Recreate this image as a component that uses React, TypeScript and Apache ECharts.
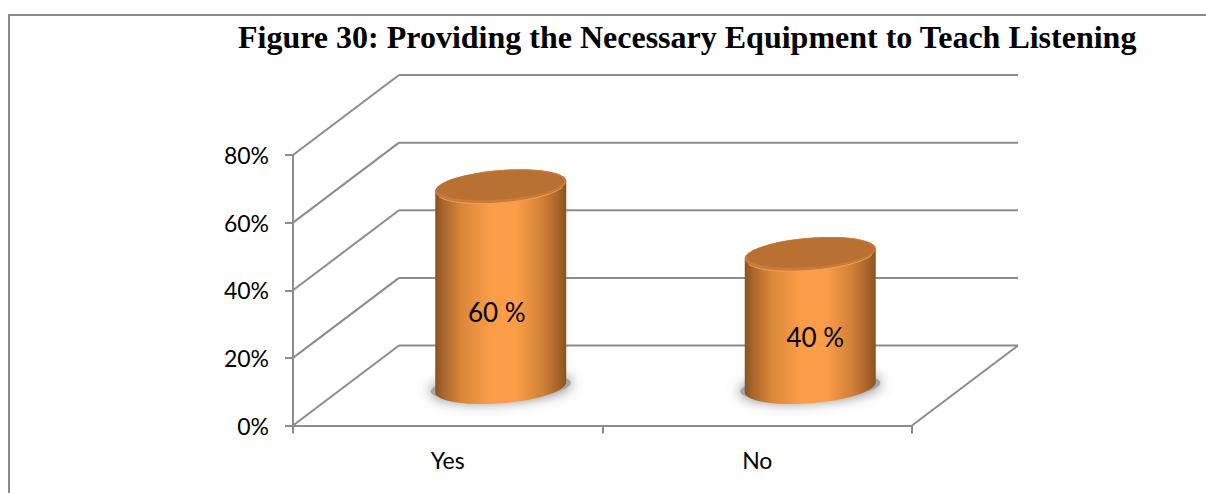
import React, { useEffect, useRef } from "react";
import * as echarts from "echarts";

const categories = ["Yes", "No"];
const values = [60, 40];
const valueLabels = ["60 %", "40 %"];
const yTicks = [0, 20, 40, 60, 80];
const titleText = "Figure 30: Providing the Necessary Equipment to Teach Listening";

const DEPTH_X = 106;
const DEPTH_Y = -80;
const BAR_RX = 65.5;
const ELL_B = 16.2;
const ELL_S = 5;
const BEVEL = 2;
const AXIS = "#8c8c8c";
const LINE_W = 2;

function ellipse(cx: number, cy: number, from: number, to: number, n = 48) {
  const pts: number[][] = [];
  for (let i = 0; i <= n; i++) {
    const t = from + ((to - from) * i) / n;
    pts.push([cx + BAR_RX * Math.cos(t), cy + ELL_B * Math.sin(t) - ELL_S * Math.cos(t)]);
  }
  return pts;
}

const renderWalls = (params: any, api: any) => {
  const v = api.value(0);
  const [x0, y0] = api.coord([0, v]);
  const size = api.size([1, 0]);
  const left = x0 - size[0] / 2;
  const right = left + size[0] * categories.length;
  const lineStyle = { stroke: AXIS, lineWidth: LINE_W, fill: null };
  const children: any[] = [
    { type: "line", shape: { x1: left, y1: y0, x2: left + DEPTH_X, y2: y0 + DEPTH_Y }, style: lineStyle },
    { type: "line", shape: { x1: left + DEPTH_X, y1: y0 + DEPTH_Y, x2: right + DEPTH_X, y2: y0 + DEPTH_Y }, style: lineStyle },
  ];
  if (v === 0) {
    children.push({ type: "line", shape: { x1: right, y1: y0, x2: right + DEPTH_X, y2: y0 + DEPTH_Y }, style: lineStyle });
  }
  return { type: "group", children };
};

const renderBar = (params: any, api: any) => {
  const i = api.value(0);
  const v = api.value(1);
  const [bx, by] = api.coord([i, 0]);
  const [, ty] = api.coord([i, v]);
  const cx = bx + DEPTH_X * 0.5;
  const bottom = by + DEPTH_Y * 0.48;
  const top = ty + DEPTH_Y * 0.48 + BEVEL;
  const gradient = new echarts.graphic.LinearGradient(0, 0, 1, 0, [
    { offset: 0, color: "#8a5122" },
    { offset: 0.06, color: "#a9652c" },
    { offset: 0.2, color: "#d98739" },
    { offset: 0.42, color: "#fb9c48" },
    { offset: 0.62, color: "#fc9d49" },
    { offset: 0.82, color: "#d08038" },
    { offset: 0.94, color: "#a66329" },
    { offset: 1, color: "#8c5222" },
  ]);
  const body = [...ellipse(cx, bottom, 0, Math.PI), ...ellipse(cx, top, Math.PI, 2 * Math.PI)];
  const shadow = ellipse(cx, bottom, 0, 2 * Math.PI).map(([x, y]) => [
    cx + (x - cx) * 1.07,
    bottom + (y - bottom) * 0.85,
  ]);
  const lid = ellipse(cx, top, 0, 2 * Math.PI);
  const lidInner = lid.map(([x, y]) => [cx + (x - cx) * 0.97, top + (y - top) * 0.88 - 1]);
  const rim = ellipse(cx, top + 0.5, 0.35, Math.PI - 0.35);
  const labelY = bottom - (bottom - top) * 0.375;
  const labelX = cx + (i === 0 ? -4 : 5);
  return {
    type: "group",
    children: [
      {
        type: "polygon",
        shape: { points: shadow },
        style: { fill: "#a5a5a5", shadowBlur: 14, shadowColor: "rgba(100,100,100,0.9)" },
      },
      { type: "polygon", shape: { points: body }, style: { fill: gradient } },
      { type: "polygon", shape: { points: lid }, style: { fill: "#c87c3a" } },
      { type: "polygon", shape: { points: lidInner }, style: { fill: "#b87033" } },
      { type: "polyline", shape: { points: rim }, style: { stroke: "#efa052", lineWidth: 1, fill: null } },
      {
        type: "text",
        style: {
          x: labelX,
          y: labelY,
          text: valueLabels[i],
          fill: "#000",
          font: "26px Lato",
          align: "center",
          verticalAlign: "middle",
        },
      },
    ],
  };
};

export default function App() {
  const ref = useRef<HTMLDivElement>(null);
  useEffect(() => {
    const chart = echarts.init(ref.current!, null, { renderer: "svg" });
    chart.setOption({
      animation: false,
      backgroundColor: "#fff",
      title: {
        text: titleText,
        left: 238,
        top: 21,
        padding: 0,
        textStyle: { fontFamily: "Liberation Serif", fontWeight: "bold", fontSize: 32, color: "#000" },
      },
      graphic: [
        {
          type: "polyline",
          shape: { points: [[9, 493], [9, 15], [1206, 15]] },
          style: { stroke: "#8a8a8a", lineWidth: 2, fill: null },
        },
      ],
      grid: { left: 293, top: 155, width: 619, height: 270.5 },
      xAxis: {
        type: "category",
        data: categories,
        boundaryGap: true,
        axisLine: { lineStyle: { color: AXIS, width: LINE_W } },
        axisTick: { show: true, alignWithLabel: false, length: 8, lineStyle: { color: AXIS, width: LINE_W } },
        axisLabel: { color: "#000", fontFamily: "Lato", fontSize: 23, margin: 23 },
      },
      yAxis: {
        type: "value",
        min: 0,
        max: 80,
        interval: 20,
        axisLine: { show: true, lineStyle: { color: AXIS, width: LINE_W } },
        axisTick: { show: true, length: 8, lineStyle: { color: AXIS, width: LINE_W } },
        axisLabel: { color: "#000", fontFamily: "Lato", fontSize: 23, margin: 24, formatter: "{value}%" },
        splitLine: { show: false },
      },
      series: [
        {
          type: "custom",
          silent: true,
          clip: false,
          renderItem: renderWalls,
          data: yTicks.map((v) => [v]),
          encode: { y: 0 },
          z: 1,
        },
        {
          type: "custom",
          silent: true,
          clip: false,
          renderItem: renderBar,
          data: values.map((v, i) => [i, v]),
          encode: { x: 0, y: 1 },
          z: 2,
        },
      ],
    });
    return () => chart.dispose();
  }, []);
  return <div ref={ref} style={{ position: "fixed", left: 0, top: 0, width: 1206, height: 493 }} />;
}
